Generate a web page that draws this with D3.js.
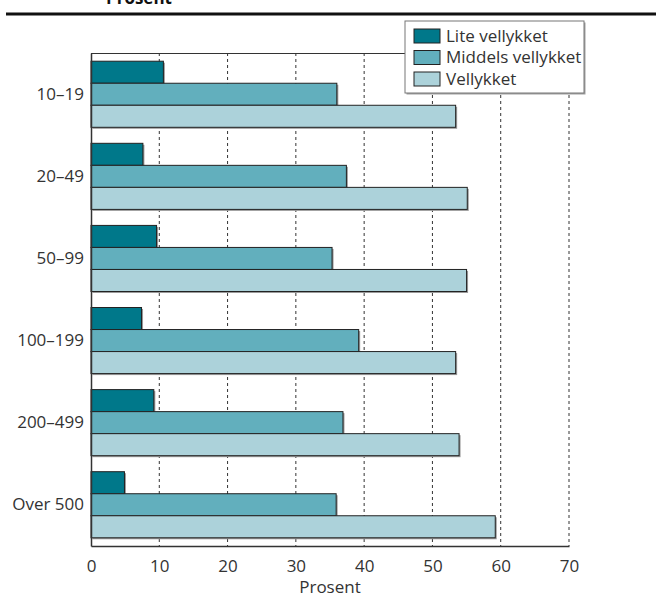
<!DOCTYPE html>
<html><head><meta charset="utf-8">
<script src="https://cdn.jsdelivr.net/npm/d3@7"></script>
<style>
html,body{margin:0;padding:0;background:#fff;}
text{font-family:"Open Sans","Noto Sans",sans-serif;}
</style></head>
<body>
<svg id="chart" width="656" height="597"></svg>
<script>
const categories = ["10–19","20–49","50–99","100–199","200–499","Over 500"];
const seriesNames = ["Lite vellykket","Middels vellykket","Vellykket"];
const liteVellykket = [10.6, 7.6, 9.6, 7.4, 9.2, 4.9];
const middelsVellykket = [36.0, 37.4, 35.3, 39.2, 36.9, 35.9];
const vellykket = [53.4, 55.1, 55.0, 53.4, 53.9, 59.2];
const xTicks = [0,10,20,30,40,50,60,70];
const colors = ["#00788a","#62afbd","#acd2da"];

const seriesValues = [liteVellykket, middelsVellykket, vellykket];
const svg = d3.select("#chart");
const mLeft = 91, mRight = 569, mTop = 53, mBottom = 546;
const fs = 17;

const x = d3.scaleLinear().domain([0,70]).range([mLeft,mRight]);
const y = d3.scaleBand().domain(categories).range([mTop,mBottom]).paddingInner(0.195).paddingOuter(0.1);
const ys = d3.scaleBand().domain(seriesNames).range([0,y.bandwidth()]);

// title (cut off)
svg.append("text").attr("x",106).attr("y",4).attr("font-size",fs).attr("font-weight","bold")
  .attr("fill","#111").text("Prosent");
svg.append("line").attr("x1",6).attr("x2",656).attr("y1",14).attr("y2",14)
  .attr("stroke","#111").attr("stroke-width",3);

// grid
svg.append("g").selectAll("line").data(xTicks.filter(d=>d>0)).join("line")
  .attr("x1",d=>x(d)).attr("x2",d=>x(d)).attr("y1",mTop).attr("y2",mBottom)
  .attr("stroke","#333").attr("stroke-width",1).attr("stroke-dasharray","3,3");

// top border
svg.append("line").attr("x1",mLeft).attr("x2",mRight).attr("y1",mTop+0.5).attr("y2",mTop+0.5)
  .attr("stroke","#333").attr("stroke-width",1.2);

// bars
const data = [];
categories.forEach((c,i)=>seriesNames.forEach((s,j)=>data.push({c,s,j,v:seriesValues[j][i]})));
const g = svg.append("g");
g.selectAll("rect.sh").data(data).join("rect").attr("class","sh")
  .attr("x",mLeft+1.5).attr("y",d=>y(d.c)+ys(d.s)+1.5)
  .attr("width",d=>x(d.v)-mLeft).attr("height",ys.bandwidth())
  .attr("fill","#9a9a9a");
g.selectAll("rect.bar").data(data).join("rect").attr("class","bar")
  .attr("x",mLeft).attr("y",d=>y(d.c)+ys(d.s))
  .attr("width",d=>x(d.v)-mLeft).attr("height",ys.bandwidth())
  .attr("fill",d=>colors[d.j]).attr("stroke","#222").attr("stroke-width",1);

// axes
const xAxis = svg.append("g").attr("transform",`translate(0,${mBottom})`)
  .call(d3.axisBottom(x).tickValues(xTicks).tickSize(0).tickPadding(14));
xAxis.select(".domain").attr("stroke","#333").attr("stroke-width",1.5);
xAxis.selectAll("text").attr("font-size",fs).attr("fill","#333").attr("font-family","Open Sans, sans-serif");

const yAxis = svg.append("g").attr("transform",`translate(${mLeft},0)`)
  .call(d3.axisLeft(y).tickSize(0).tickPadding(7));
yAxis.select(".domain").attr("stroke","#333").attr("stroke-width",1.5);
yAxis.selectAll("text").attr("font-size",fs).attr("fill","#333").attr("font-family","Open Sans, sans-serif");

svg.append("text").attr("x",x(35)).attr("y",593).attr("text-anchor","middle")
  .attr("font-size",fs).attr("fill","#333").text("Prosent");

// legend
const lg = svg.append("g");
lg.append("rect").attr("x",406.5).attr("y",22.5).attr("width",179).attr("height",72).attr("fill","#a0a0a0");
lg.append("rect").attr("x",405).attr("y",21).attr("width",179).attr("height",72)
  .attr("fill","#fff").attr("stroke","#777").attr("stroke-width",1);
const rowY = d3.scalePoint().domain(seriesNames).range([36,79]);
lg.selectAll("rect.sw").data(seriesNames).join("rect").attr("class","sw")
  .attr("x",414).attr("y",d=>rowY(d)-7).attr("width",26).attr("height",14)
  .attr("fill",(d,i)=>colors[i]).attr("stroke","#222");
lg.selectAll("text").data(seriesNames).join("text")
  .attr("x",446).attr("y",d=>rowY(d)).attr("dy","0.35em")
  .attr("font-size",fs).attr("fill","#333").text(d=>d);
</script>
</body></html>
